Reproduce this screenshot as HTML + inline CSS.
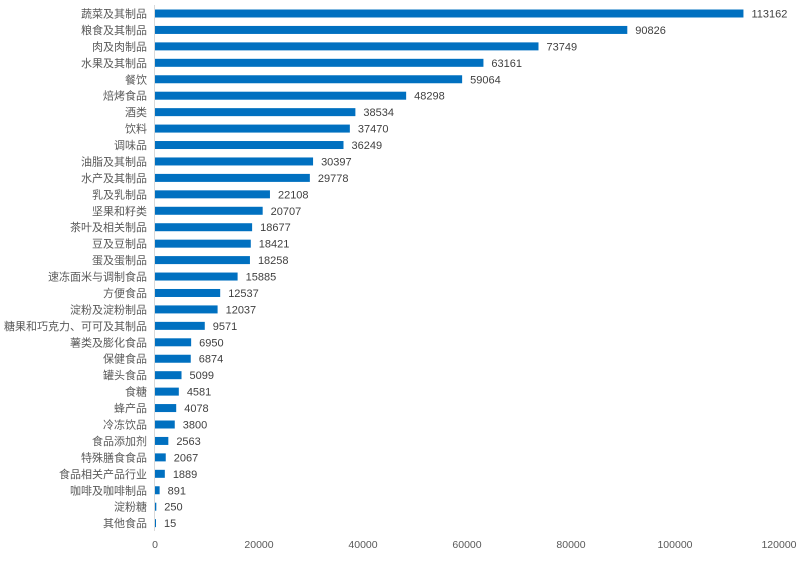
<!DOCTYPE html><html><head><meta charset="utf-8"><style>
body{margin:0;background:#fff;width:800px;height:560px;overflow:hidden;font-family:"Liberation Sans","Noto Sans CJK SC",sans-serif;color:#595959}
</style></head><body>
<svg id="s" width="800" height="560" xmlns="http://www.w3.org/2000/svg" font-family="Liberation Sans, Noto Sans CJK SC, sans-serif" font-size="11" fill="#404040"></svg>
<script>
var d=[["蔬菜及其制品",113162],["粮食及其制品",90826],["肉及肉制品",73749],["水果及其制品",63161],["餐饮",59064],["焙烤食品",48298],["酒类",38534],["饮料",37470],["调味品",36249],["油脂及其制品",30397],["水产及其制品",29778],["乳及乳制品",22108],["坚果和籽类",20707],["茶叶及相关制品",18677],["豆及豆制品",18421],["蛋及蛋制品",18258],["速冻面米与调制食品",15885],["方便食品",12537],["淀粉及淀粉制品",12037],["糖果和巧克力、可可及其制品",9571],["薯类及膨化食品",6950],["保健食品",6874],["罐头食品",5099],["食糖",4581],["蜂产品",4078],["冷冻饮品",3800],["食品添加剂",2563],["特殊膳食食品",2067],["食品相关产品行业",1889],["咖啡及咖啡制品",891],["淀粉糖",250],["其他食品",15]];
var h='<line x1="154.5" y1="5" x2="154.5" y2="531" stroke="#d9d9d9"/>';
var x0=155,k=0.0052;
d.forEach(function(r,i){var y=13.5+i*16.44;var w=Math.max(r[1]*k,1);
h+='<rect x="'+x0+'" y="'+(y-4)+'" width="'+w+'" height="8" fill="#0070C0"/>';
h+='<text x="147" y="'+(y+4)+'" text-anchor="end" fill="#595959">'+r[0]+'</text>';
h+='<text x="'+(x0+w+8)+'" y="'+(y+4)+'" fill="#404040">'+r[1]+'</text>';});
for(var t=0;t<=120000;t+=20000){h+='<text x="'+(x0+t*k)+'" y="548" text-anchor="middle" font-size="10.5" fill="#595959">'+t+'</text>';}
document.getElementById('s').innerHTML=h;
</script>
</body></html>
